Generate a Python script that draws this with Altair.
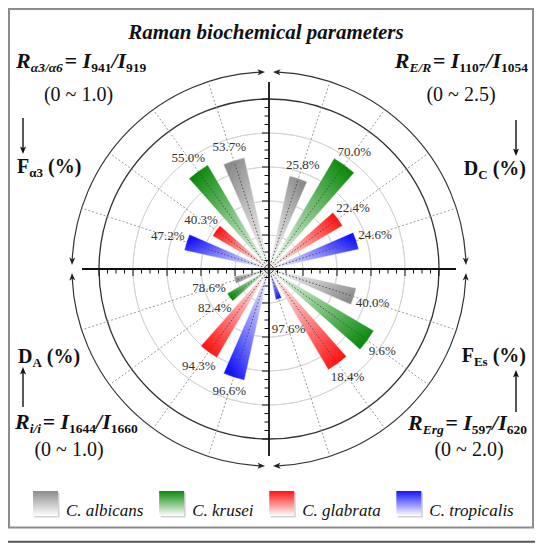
import math
import altair as alt
import pandas as pd

# ---------------- data ----------------
species = ["C. albicans", "C. krusei", "C. glabrata", "C. tropicalis"]
tip_colors = ["#8c8c8c", "#0b8a0b", "#ff1414", "#1414ff"]
mid_colors = ["#c4c4c4", "#7cc27c", "#ff8a8a", "#8a8aff"]
# quadrant order: top-left (F_a3), top-right (D_C), bottom-right (F_Es), bottom-left (D_A)
quadrants = ["F_a3", "D_C", "F_Es", "D_A"]
quad_max = [1.0, 2.5, 2.0, 1.0]

ratio_albicans = [0.67, 1.40, 1.05, 0.21]
ratio_krusei = [0.71, 1.89, 1.43, 0.285]
ratio_glabrata = [0.385, 1.255, 1.375, 0.605]
ratio_tropicalis = [0.51, 1.35, 0.37, 0.67]

pct_albicans = [53.7, 25.8, 40.0, 78.6]
pct_krusei = [55.0, 70.0, 9.6, 82.4]
pct_glabrata = [40.3, 22.4, 18.4, 94.3]
pct_tropicalis = [47.2, 24.6, 97.6, 96.6]

ratios = [ratio_albicans, ratio_krusei, ratio_glabrata, ratio_tropicalis]
pcts = [pct_albicans, pct_krusei, pct_glabrata, pct_tropicalis]

# ---------------- geometry ----------------
R_PX = 170.0          # pixel radius of full scale
CX = CY = 261.0       # centre of the plot area
HALF_W = 5.5          # half angular width of a wedge (deg)
R_ARROW = 197.0 / R_PX
R_AXIS = 187.0 / R_PX
quad_base = [360, 0, 90, 270]
quad_dir = [-1, 1, 1, -1]
FONT = "Liberation Serif"


def u_of(px):
    return (px - CX) / R_PX


def v_of(py):
    return (CY - py) / R_PX


rows = []
for k, sp in enumerate(species):
    for q in range(4):
        mid = (quad_base[q] + quad_dir[q] * 18 * (k + 1)) % 360
        r = ratios[k][q] / quad_max[q]
        s = abs(math.sin(math.radians(mid)))
        r_lab = max(r + (12 + 8 * s) / R_PX, 63 / R_PX)
        rows.append(dict(idx=len(rows), species=sp, k=k, q=q, mid=mid,
                         t0=mid - HALF_W, t1=mid + HALF_W, r=r, r_lab=r_lab,
                         label=f"{pcts[k][q]:.1f}%",
                         u0=0.0, v0=0.0,
                         u=0.97 * r * math.sin(math.radians(mid)),
                         v=0.97 * r * math.cos(math.radians(mid))))
bars = pd.DataFrame(rows)

theta_scale = alt.Scale(domain=[0, 360], range=[0, 2 * math.pi])
r_scale = alt.Scale(type="linear", domain=[0, 1], range=[0, R_PX])
x_scale = alt.Scale(domain=[-1, 1], range=[CX - R_PX, CX + R_PX], nice=False)
y_scale = alt.Scale(domain=[-1, 1], range=[CY + R_PX, CY - R_PX], nice=False)


def X(f):
    return alt.X(f, type="quantitative", scale=x_scale, axis=None)


def Y(f):
    return alt.Y(f, type="quantitative", scale=y_scale, axis=None)


def wedge_gradient(mid, rnorm, color, mcolor):
    rpx = rnorm * R_PX
    pts = [(0.0, 0.0)]
    for a in (mid - HALF_W, mid + HALF_W):
        pts.append((rpx * math.sin(math.radians(a)), -rpx * math.cos(math.radians(a))))
    xs = [p[0] for p in pts]
    ys = [p[1] for p in pts]
    x0, x1 = min(xs), max(xs)
    y0, y1 = min(ys), max(ys)
    tx = rpx * math.sin(math.radians(mid))
    ty = -rpx * math.cos(math.radians(mid))
    nx = lambda v: (v - x0) / (x1 - x0)
    ny = lambda v: (v - y0) / (y1 - y0)
    return alt.LinearGradient(
        gradient="linear",
        stops=[alt.GradientStop(color="#ffffff", offset=0),
               alt.GradientStop(color=mcolor, offset=0.55),
               alt.GradientStop(color=color, offset=1)],
        x1=nx(0.0), y1=ny(0.0), x2=nx(tx), y2=ny(ty))


layers = []

# ---- rings ----
rings = pd.DataFrame({"r": [0.2, 0.4, 0.6, 0.8], "t0": [0] * 4, "t1": [360] * 4})
layers.append(alt.Chart(rings).mark_arc(fillOpacity=0, stroke="#d6d6d6", strokeWidth=1).encode(
    theta=alt.Theta("t0:Q", scale=theta_scale, stack=False), theta2=alt.Theta2("t1"),
    radius=alt.Radius("r:Q", scale=r_scale), radius2=alt.Radius2("r")))
outer = pd.DataFrame({"r": [1.0], "t0": [0], "t1": [360]})
layers.append(alt.Chart(outer).mark_arc(fillOpacity=0, stroke="#333333", strokeWidth=1.3).encode(
    theta=alt.Theta("t0:Q", scale=theta_scale, stack=False), theta2=alt.Theta2("t1"),
    radius=alt.Radius("r:Q", scale=r_scale), radius2=alt.Radius2("r")))
arrow_arcs = pd.DataFrame({"r": [R_ARROW] * 4,
                           "t0": [a + 2.6 for a in (0, 90, 180, 270)],
                           "t1": [a + 90 - 2.6 for a in (0, 90, 180, 270)]})
layers.append(alt.Chart(arrow_arcs).mark_arc(fillOpacity=0, stroke="#333333", strokeWidth=1.2).encode(
    theta=alt.Theta("t0:Q", scale=theta_scale, stack=False), theta2=alt.Theta2("t1"),
    radius=alt.Radius("r:Q", scale=r_scale), radius2=alt.Radius2("r")))

# ---- dotted spokes ----
spokes = pd.DataFrame({
    "u0": [0.0] * 16, "v0": [0.0] * 16,
    "u1": [R_ARROW * math.sin(math.radians(m)) for m in bars["mid"]],
    "v1": [R_ARROW * math.cos(math.radians(m)) for m in bars["mid"]]})
layers.append(alt.Chart(spokes).mark_rule(color="#9a9a9a", strokeDash=[2, 2], strokeWidth=1).encode(
    x=X("u0"), y=Y("v0"), x2=alt.X2("u1"), y2=alt.Y2("v1")))

# ---- wedges ----
for i, row in bars.iterrows():
    kk = int(row["k"])
    layers.append(alt.Chart(bars).transform_filter(alt.datum.idx == int(row["idx"])).mark_arc(
        fill=wedge_gradient(row["mid"], row["r"], tip_colors[kk], mid_colors[kk]),
        stroke="#e6e6e6", strokeWidth=0.4).encode(
        theta=alt.Theta("t0:Q", scale=theta_scale, stack=False), theta2=alt.Theta2("t1"),
        radius=alt.Radius("r:Q", scale=r_scale)))

# dark dotted centre lines on the wedges
layers.append(alt.Chart(bars).mark_rule(color="#444444", strokeDash=[1.5, 2], strokeWidth=0.9).encode(
    x=X("u0"), y=Y("v0"), x2=alt.X2("u"), y2=alt.Y2("v")))

# ---- axes ----
axes = pd.DataFrame({"u0": [-R_AXIS, 0.0], "u1": [R_AXIS, 0.0],
                     "v0": [0.0, -R_AXIS], "v1": [0.0, R_AXIS]})
layers.append(alt.Chart(axes).mark_rule(color="#111111", strokeWidth=1.8).encode(
    x=X("u0"), y=Y("v0"), x2=alt.X2("u1"), y2=alt.Y2("v1")))

tick_rows = []
for j in range(1, 21):
    p = j * 0.05
    ln = (7.0 if j % 4 == 0 else 4.5) / R_PX
    for sgn in (-1, 1):
        tick_rows.append(dict(u0=sgn * p, u1=sgn * p, v0=0.0, v1=-ln))
        tick_rows.append(dict(u0=0.0, u1=-ln, v0=sgn * p, v1=sgn * p))
ticks = pd.DataFrame(tick_rows)
layers.append(alt.Chart(ticks).mark_rule(color="#111111", strokeWidth=1).encode(
    x=X("u0"), y=Y("v0"), x2=alt.X2("u1"), y2=alt.Y2("v1")))

# ---- value labels ----
layers.append(alt.Chart(bars).mark_text(font=FONT, fontSize=13, color="#333333").encode(
    theta=alt.Theta("mid:Q", scale=theta_scale, stack=False),
    radius=alt.Radius("r_lab:Q", scale=r_scale),
    text="label:N"))

# ---- arrowheads on the outer arrow circle ----
ARROW = "M0,-1L0.75,0.9L0,0.42L-0.75,0.9Z"
head_rows = []
for a0 in (0, 90, 180, 270):
    for tc, rot in ((a0 + 2.31, a0 + 2.31 - 90), (a0 + 90 - 2.31, a0 + 90 - 2.31 + 90)):
        head_rows.append(dict(u=R_ARROW * math.sin(math.radians(tc)),
                              v=R_ARROW * math.cos(math.radians(tc)),
                              rot=rot % 360))
heads = pd.DataFrame(head_rows)
layers.append(alt.Chart(heads).mark_point(shape=ARROW, filled=True, size=64, color="#222222", opacity=1).encode(
    x=X("u"), y=Y("v"), angle=alt.Angle("rot:Q", scale=None)))

# ---- straight corner arrows ----
corner = [  # x, tail y, tip y (pixels in plot area)
    (15, 110, 146), (508, 112, 148), (15, 399, 359), (508, 404, 362)]
arr_rows, arr_heads = [], []
for x, tail, tip in corner:
    down = tip > tail
    arr_rows.append(dict(u0=u_of(x), u1=u_of(x), v0=v_of(tail), v1=v_of(tip - 3 if down else tip + 3)))
    arr_heads.append(dict(u=u_of(x), v=v_of(tip - 4 if down else tip + 4), rot=180 if down else 0))
layers.append(alt.Chart(pd.DataFrame(arr_rows)).mark_rule(color="#111111", strokeWidth=1.4).encode(
    x=X("u0"), y=Y("v0"), x2=alt.X2("u1"), y2=alt.Y2("v1")))
layers.append(alt.Chart(pd.DataFrame(arr_heads)).mark_point(shape=ARROW, filled=True, size=64, color="#111111", opacity=1).encode(
    x=X("u"), y=Y("v"), angle=alt.Angle("rot:Q", scale=None)))

# ---- rich text runs ----
W_BI = {' ': 250, 'E': 667, 'I': 389, 'R': 667, '/': 278, '=': 570, 'a': 500, 'g': 500,
        'i': 278, 'r': 389, 'α': 560, 'b': 500, 'o': 500, 'c': 444, 'h': 556, 'e': 444,
        'm': 778, 'l': 278, 'p': 500, 't': 278, 's': 389, 'n': 556}
W_B = {' ': 250, '(': 333, ')': 333, '%': 1000, 'D': 722, 'F': 611, 'C': 722, 'A': 722,
       'E': 667, 's': 389, 'α': 560}
W_R = {' ': 250, '(': 333, ')': 333, '~': 541, '.': 250}
W_I = {' ': 250, 'C': 667, '.': 250, 'a': 500, 'b': 500, 'c': 444, 'e': 444, 'g': 500,
       'i': 278, 'k': 444, 'l': 278, 'n': 500, 'o': 500, 'p': 500, 'r': 389, 's': 389,
       't': 278, 'u': 500}
TABLES = {"bi": W_BI, "b": W_B, "r": W_R, "i": W_I}


def text_width(s, size, style):
    tbl = TABLES[style]
    return sum(tbl.get(ch, 500) for ch in s) * size / 1000.0


run_rows = []


def add_runs(runs, x, y, align="left"):
    total = sum(g + text_width(t, sz, st) for (t, sz, st, dy, g) in runs)
    if align == "right":
        x -= total
    elif align == "center":
        x -= total / 2
    for (t, sz, st, dy, g) in runs:
        x += g
        run_rows.append(dict(text=t, u=u_of(x), v=v_of(y + dy), size=sz, style=st))
        x += text_width(t, sz, st)


def formula(sub, n1, n2):
    return [("R", 22, "bi", 0, 0), (sub, 13.5, "bi", 4, 0), ("=", 22, "bi", 0, 1.5),
            ("I", 22, "bi", 0, 5.5), (n1, 13.5, "b", 4, 0), ("/I", 22, "bi", 0, 0),
            (n2, 13.5, "b", 4, 0)]


add_runs(formula("α3/α6", "941", "919"), 8, 60, "left")
add_runs(formula("E/R", "1107", "1054"), 520, 60, "right")
add_runs(formula("i/i", "1644", "1660"), 7, 421, "left")
add_runs(formula("Erg", "597", "620"), 519, 422, "right")

add_runs([("(0 ~ 1.0)", 20, "r", 0, 0)], 70.5, 93, "center")
add_runs([("(0 ~ 2.5)", 20, "r", 0, 0)], 453, 93, "center")
add_runs([("(0 ~ 1.0)", 20, "r", 0, 0)], 61, 448, "center")
add_runs([("(0 ~ 2.0)", 20, "r", 0, 0)], 461, 448, "center")

add_runs([("F", 20, "b", 0, 0), ("α3", 13, "b", 4, 0), ("(%)", 20, "b", 0, 5)], 9, 165, "left")
add_runs([("D", 20, "b", 0, 0), ("C", 13, "b", 4, 0), ("(%)", 20, "b", 0, 5)], 518, 167, "right")
add_runs([("D", 20, "b", 0, 0), ("A", 13, "b", 4, 0), ("(%)", 20, "b", 0, 5)], 10, 355, "left")
add_runs([("F", 20, "b", 0, 0), ("Es", 13, "b", 4, 0), ("(%)", 20, "b", 0, 5)], 518, 354, "right")

add_runs([("Raman biochemical parameters", 21, "bi", 0, 0)], 258, 31, "center")

# ---- legend ----
leg_rows = []
lx = 25.0
for k, sp in enumerate(species):
    leg_rows.append(dict(k=k, u0=u_of(lx), u1=u_of(lx + 25), v0=v_of(483), v1=v_of(508),
                         su0=u_of(lx + 1.5), su1=u_of(lx + 26.5), sv0=v_of(484.5), sv1=v_of(509.5)))
    tx = lx + 33
    add_runs([(sp, 17, "i", 0, 0)], tx, 508, "left")
    lx = tx + text_width(sp, 17, "i") + 15.7
legend = pd.DataFrame(leg_rows)
layers.append(alt.Chart(legend).mark_rect(color="#d2d2d2").encode(
    x=X("su0"), x2=alt.X2("su1"), y=Y("sv0"), y2=alt.Y2("sv1")))
for k in range(4):
    layers.append(alt.Chart(legend).transform_filter(alt.datum.k == k).mark_rect(
        fill=alt.LinearGradient(gradient="linear",
                                stops=[alt.GradientStop(color=tip_colors[k], offset=0),
                                       alt.GradientStop(color="#ffffff", offset=1)],
                                x1=0, y1=0, x2=0, y2=1)).encode(
        x=X("u0"), x2=alt.X2("u1"), y=Y("v0"), y2=alt.Y2("v1")))

runs = pd.DataFrame(run_rows)
style_props = {"bi": dict(fontWeight="bold", fontStyle="italic"),
               "b": dict(fontWeight="bold", fontStyle="normal"),
               "r": dict(fontWeight="normal", fontStyle="normal"),
               "i": dict(fontWeight="normal", fontStyle="italic")}
for st, props in style_props.items():
    layers.append(alt.Chart(runs).transform_filter(alt.datum.style == st).mark_text(
        font=FONT, align="left", baseline="alphabetic", color="#111111", **props).encode(
        x=X("u"), y=Y("v"), text="text:N", size=alt.Size("size:Q", scale=None)))

# ---- frame and bottom line ----
frame = pd.DataFrame({"u0": [u_of(1)], "u1": [u_of(525)], "v0": [v_of(1)], "v1": [v_of(519.5)]})
layers.append(alt.Chart(frame).mark_rect(fillOpacity=0, stroke="#8c8c8c", strokeWidth=2).encode(
    x=X("u0"), x2=alt.X2("u1"), y=Y("v0"), y2=alt.Y2("v1")))
bottom = pd.DataFrame({"u0": [u_of(0)], "u1": [u_of(527)], "v0": [v_of(533.7)]})
layers.append(alt.Chart(bottom).mark_rule(color="#555555", strokeWidth=2).encode(
    x=X("u0"), x2=alt.X2("u1"), y=Y("v0")))

chart = alt.layer(*layers).properties(
    width=522, height=522,
    padding={"left": 0, "top": 0, "right": 10, "bottom": 15},
    autosize=alt.AutoSizeParams(type="none"),
    background="white",
).configure_view(stroke="transparent")

chart.save("out.html", embed_options={"renderer": "svg", "actions": False})
